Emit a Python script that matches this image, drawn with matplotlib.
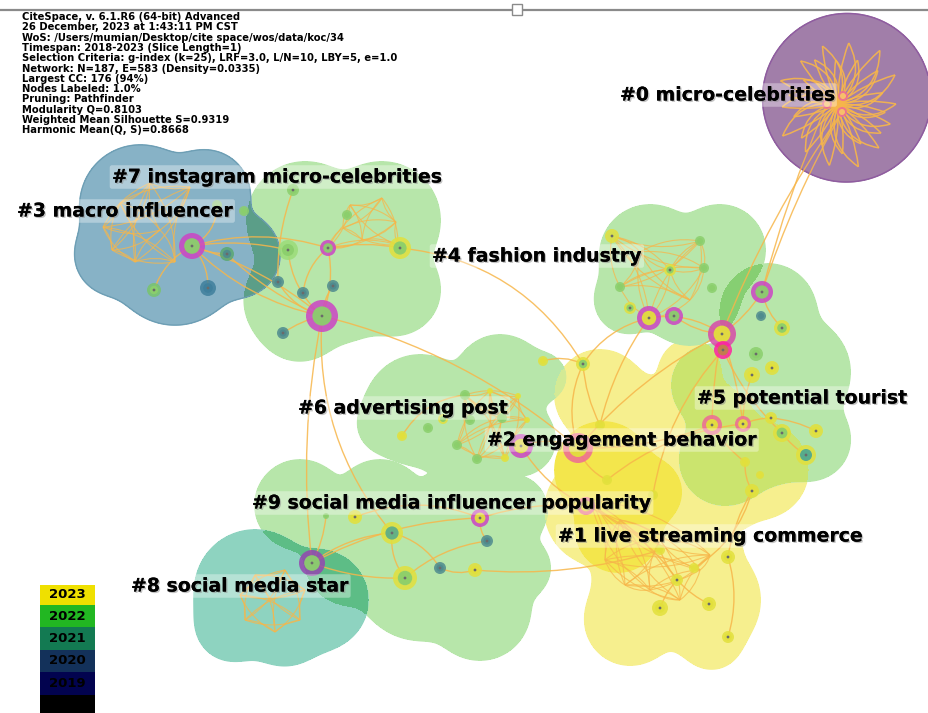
import matplotlib.pyplot as plt
import numpy as np
from matplotlib.patches import Circle, Rectangle, PathPatch
from matplotlib.path import Path
import matplotlib.patheffects as pe

W, H = 929, 713

# header text (CiteSpace run info)
header = [
    "CiteSpace, v. 6.1.R6 (64-bit) Advanced",
    "26 December, 2023 at 1:43:11 PM CST",
    "WoS: /Users/mumian/Desktop/cite space/wos/data/koc/34",
    "Timespan: 2018-2023 (Slice Length=1)",
    "Selection Criteria: g-index (k=25), LRF=3.0, L/N=10, LBY=5, e=1.0",
    "Network: N=187, E=583 (Density=0.0335)",
    "Largest CC: 176 (94%)",
    "Nodes Labeled: 1.0%",
    "Pruning: Pathfinder",
    "Modularity Q=0.8103",
    "Weighted Mean Silhouette S=0.9319",
    "Harmonic Mean(Q, S)=0.8668",
]

# year legend
years = ["2023", "2022", "2021", "2020", "2019", ""]
year_colors = ["#efe000", "#22b722", "#137a52", "#13315a", "#02034f", "#000000"]

# cluster labels: text, left x, centre y (pixels)
labels = ["#0 micro-celebrities", "#7 instagram micro-celebrities", "#3 macro influencer",
          "#4 fashion industry", "#6 advertising post", "#5 potential tourist",
          "#2 engagement behavior", "#9 social media influencer popularity",
          "#1 live streaming commerce", "#8 social media star"]
label_x = [620, 112, 17, 432, 298, 697, 487, 252, 558, 131]
label_y = [95, 177, 211, 256, 408, 398, 440, 503, 536, 586]

# cluster areas as unions of circles (cx, cy, r)
blob_2 = [(600, 395, 45), (640, 440, 60), (700, 440, 60), (760, 470, 48), (600, 500, 50), (720, 495, 40), (690, 370, 30)]
blob_1 = [(600, 510, 55), (655, 575, 60), (705, 600, 55), (630, 620, 45), (690, 545, 50), (712, 640, 28)]
blob_2c = [(603, 470, 48), (618, 530, 42), (648, 492, 33)]
blob_6 = [(420, 410, 55), (500, 380, 45), (470, 440, 50), (385, 425, 25), (543, 377, 22), (520, 440, 35)]
blob_9 = [(300, 505, 45), (380, 505, 45), (460, 500, 40), (512, 510, 35), (420, 575, 65), (480, 610, 50), (350, 560, 45), (520, 568, 30)]
blob_8 = [(255, 590, 60), (318, 600, 50), (285, 625, 40), (232, 625, 35)]
blob_4 = [(650, 255, 50), (720, 250, 45), (690, 295, 50), (628, 300, 33)]
blob_5 = [(768, 312, 48), (795, 372, 55), (760, 420, 65), (810, 440, 40), (725, 460, 45), (712, 385, 40)]
blob_7 = [(305, 220, 58), (382, 220, 58), (335, 270, 72), (300, 320, 40), (395, 290, 45), (290, 300, 45)]
blob_3 = [(140, 205, 60), (205, 195, 45), (175, 260, 65), (238, 255, 42), (115, 255, 40)]
blob_0 = [(848, 96, 80), (845, 100, 78)]

blobs = [blob_2, blob_1, blob_2c, blob_6, blob_9, blob_8, blob_4, blob_5, blob_7, blob_3, blob_0]
blob_colors = ["#f6ef8e", "#f6ef8e", "#f3e64c", "#b7e6aa", "#b7e6aa", "#8ed3c0", "#b7e6aa",
               "#b7e6aa", "#b7e6aa", "#87b2c6", "#a17ea9"]
# overlapping areas drawn darker: (index a, index b, colour)
overlaps = [(9, 8, "#5b9e88"), (5, 4, "#5dbd86"), (6, 7, "#86cf72"), (7, 0, "#cbe46e"),
            (7, 2, "#c7e040"), (3, 0, "#d3ea95"), (4, 1, "#d9ed92")]

# nodes: name, x, y, radius, ring colour, core colour
M, P, V = "#cc44c4", "#ee6a96", "#9446b0"
Y, G, T, B = "#e2e03c", "#8bcf6c", "#4f8b8e", "#3f7f9c"
nodes_0 = [("a0", 843, 96, 5, P, "#f7c46a"), ("b0", 827, 104, 5, P, "#f7c46a"), ("c0", 842, 112, 5, P, "#f7c46a")]
nodes_3 = [("h3", 192, 246, 13, M, G), ("t3", 227, 254, 7, "#5aa872", T), ("g3", 154, 290, 7, "#78c46c", G),
           ("b3", 208, 288, 8, B, B), ("s3", 217, 205, 5, "#9ccf80", "#9ccf80"), ("u3", 244, 211, 5, G, G)]
nodes_7 = [("g7", 288, 250, 10, "#9bdc78", G), ("m7", 328, 248, 8, M, G), ("y7", 400, 248, 11, Y, G),
           ("h7", 322, 316, 16, M, G), ("t7a", 278, 282, 6, T, T), ("t7b", 303, 293, 6, T, T),
           ("t7c", 333, 286, 6, T, T), ("t7d", 283, 333, 6, T, T), ("g7b", 293, 190, 6, G, G), ("g7c", 347, 215, 5, G, G)]
nodes_4 = [("y4a", 612, 236, 7, Y, "#d6e050"), ("g4a", 700, 241, 5, G, G), ("y4b", 670, 270, 6, Y, G),
           ("g4b", 704, 268, 5, G, G), ("g4c", 712, 288, 5, G, G), ("g4d", 620, 287, 5, G, G),
           ("y4c", 630, 308, 6, Y, G), ("m4a", 649, 318, 12, M, Y), ("m4b", 674, 316, 9, M, G),
           ("m4c", 722, 334, 14, "#d84aa8", Y), ("m4d", 723, 350, 9, "#ff20a0", "#c0804a"),
           ("m4e", 762, 292, 11, M, G), ("t4", 761, 316, 5, T, T), ("y4d", 782, 328, 8, Y, G),
           ("g4e", 756, 354, 7, G, G), ("y4e", 752, 375, 8, Y, Y), ("y4f", 772, 368, 7, Y, Y)]
nodes_5 = [("p5a", 712, 425, 10, P, Y), ("p5b", 743, 424, 8, P, Y), ("y5a", 782, 433, 9, Y, G),
           ("y5b", 806, 455, 10, Y, "#50a890"), ("y5c", 816, 431, 7, Y, Y), ("y5d", 771, 418, 6, Y, Y),
           ("y5e", 745, 462, 5, Y, Y), ("y5f", 752, 491, 7, Y, Y), ("y5g", 760, 475, 4, Y, Y)]
nodes_6 = [("g6a", 465, 395, 5, G, G), ("y6a", 490, 391, 3, Y, Y), ("y6b", 518, 396, 3, Y, Y),
           ("g6b", 443, 419, 5, Y, G), ("g6c", 470, 420, 5, G, G), ("g6d", 502, 418, 5, G, G),
           ("y6c", 527, 420, 3, Y, Y), ("g6e", 428, 428, 5, G, G), ("y6d", 402, 436, 5, Y, Y),
           ("g6f", 457, 445, 5, G, G), ("g6g", 477, 459, 5, G, G), ("y6e", 505, 458, 4, Y, Y),
           ("y6f", 543, 361, 5, Y, Y), ("g6h", 583, 364, 7, Y, G), ("m6", 521, 446, 12, M, Y)]
nodes_2 = [("p2", 578, 448, 15, P, Y), ("p2b", 586, 506, 9, P, Y), ("y2a", 600, 425, 5, Y, Y),
           ("y2b", 607, 480, 5, Y, Y), ("y2c", 653, 495, 5, Y, Y)]
nodes_1 = [("y1a", 660, 550, 5, Y, Y), ("y1b", 694, 568, 5, Y, Y), ("y1c", 677, 580, 6, Y, Y),
           ("y1d", 660, 608, 8, Y, Y), ("y1e", 709, 604, 7, Y, Y), ("y1f", 728, 637, 6, Y, Y),
           ("y1g", 728, 557, 7, Y, Y)]
nodes_9 = [("m9", 480, 518, 9, M, Y), ("y9a", 392, 533, 11, Y, "#5fae88"), ("y9b", 405, 578, 12, Y, G),
           ("t9a", 487, 541, 6, T, T), ("t9b", 440, 568, 6, T, T), ("y9c", 475, 570, 7, Y, Y),
           ("y9d", 355, 517, 7, Y, Y), ("g9", 326, 516, 3, G, G)]
nodes_8 = [("h8", 312, 563, 13, V, G)]
node_groups = [nodes_0, nodes_3, nodes_7, nodes_4, nodes_5, nodes_6, nodes_2, nodes_1, nodes_9, nodes_8]

# links between named nodes: (from, to, bend)
edges = [
    ("c0", "m4e", 0.05), ("c0", "m4c", 0.06), ("b0", "m4e", 0.04),
    ("h3", "g7", -0.1), ("h3", "h7", 0.15), ("h3", "h7", -0.1), ("h3", "m7", -0.15),
    ("h3", "t3", 0.1), ("h3", "g3", 0.2), ("h3", "b3", -0.2), ("h3", "s3", 0.3), ("t3", "h7", 0.1),
    ("g7", "h7", 0.2), ("m7", "h7", -0.15), ("m7", "y7", -0.1), ("t7a", "h7", 0.2),
    ("t7c", "h7", 0.15), ("t7d", "h7", -0.1), ("g7b", "t7a", 0.1), ("m7", "t7b", 0.2),
    ("h7", "p2", -0.12), ("y7", "g6h", -0.25), ("h7", "h8", 0.08), ("h7", "y9a", 0.2),
    ("h8", "y9a", -0.15), ("h8", "y9b", 0.1), ("h8", "m9", -0.12), ("h8", "g9", 0.1),
    ("y9a", "t9b", -0.2), ("y9a", "y9b", 0.2), ("t9b", "y9c", 0.2), ("m9", "t9a", 0.2),
    ("m9", "p2b", -0.1), ("y9b", "t9a", -0.15), ("y9d", "m9", -0.2), ("y9c", "y1a", 0.1),
    ("m6", "p2", -0.2), ("g6h", "p2", 0.2), ("y6f", "g6h", -0.2), ("g6h", "m4a", -0.2),
    ("y6d", "g6a", -0.25), ("p2", "m4c", -0.1), ("p2", "p5a", 0.1), ("p2b", "y1c", -0.15),
    ("y2a", "m4a", -0.1), ("y2b", "p5b", -0.15), ("m4c", "p5a", 0.05), ("m4c", "p5b", -0.05),
    ("m4d", "y5a", 0.1), ("m4c", "m4e", 0.1), ("m4e", "y4d", 0.15), ("p5a", "y5e", 0.1),
    ("p5b", "y5d", -0.1), ("y5a", "y5b", 0.1), ("y5d", "y5c", -0.1), ("y5e", "y5f", 0.15),
    ("m4a", "m4c", -0.2), ("m4b", "m4c", 0.15), ("y5f", "y1g", 0.1), ("y1g", "y1f", -0.15),
    ("y1a", "y1e", 0.2), ("y1c", "y1d", 0.1), ("m4d", "y2c", 0.15), ("y4e", "p5b", 0.1),
    ("p2", "y2b", 0.2), ("m6", "p2b", 0.15), ("g6h", "y2a", 0.1), ("y1b", "y5f", 0.2),
]

# dense local meshes (every pair linked)
mesh_3 = [(103, 227), (120, 203), (150, 183), (190, 187), (175, 262), (135, 262), (112, 250), (160, 230)]
mesh_7 = [(350, 205), (382, 198), (396, 222), (398, 245), (362, 240), (343, 228), (328, 248)]
mesh_4 = [(612, 236), (700, 241), (670, 270), (620, 287), (649, 318), (704, 268), (640, 252), (690, 300)]
mesh_6 = [(490, 391), (518, 396), (527, 420), (505, 458), (477, 459), (457, 445), (465, 395), (502, 418)]
mesh_1 = [(590, 500), (620, 520), (625, 585), (650, 590), (680, 600), (700, 570), (710, 555), (660, 540), (605, 560)]
mesh_8 = [(240, 595), (255, 575), (285, 570), (305, 590), (300, 620), (275, 632), (245, 620)]
meshes = [mesh_3, mesh_7, mesh_4, mesh_6, mesh_1, mesh_8]

# swirl of links in cluster #0: angle (deg), length (px)
star_angle = [0, 14, 27, 40, 52, 66, 80, 93, 105, 118, 131, 145, 158, 170,
              183, 196, 210, 223, 236, 249, 262, 275, 288, 300, 313, 326, 339, 350]
star_len = [58, 46, 64, 52, 68, 48, 62, 44, 60, 50, 57, 42, 62, 50,
            56, 46, 64, 50, 58, 44, 62, 50, 66, 46, 60, 52, 56, 48]
star_centre = (838, 104)

EDGE = "#f7b64a"


def field(circles, X, Y):
    d = np.stack([np.hypot(X - cx, Y - cy) - r for cx, cy, r in circles])
    m = d.min(axis=0)
    k = 7.0
    return m - k * np.log(np.exp(-(d - m) / k).sum(axis=0))


def arc(ax, p, q, bend, lw=1.0, alpha=0.85):
    (x0, y0), (x1, y1) = p, q
    cx = (x0 + x1) / 2 - (y1 - y0) * bend
    cy = (y0 + y1) / 2 + (x1 - x0) * bend
    path = Path([(x0, y0), (cx, cy), (x1, y1)], [Path.MOVETO, Path.CURVE3, Path.CURVE3])
    ax.add_patch(PathPatch(path, fill=False, ec=EDGE, lw=lw, alpha=alpha, zorder=3))


fig = plt.figure(figsize=(W / 100, H / 100), dpi=100)
ax = fig.add_axes([0, 0, 1, 1])
ax.set_xlim(0, W)
ax.set_ylim(H, 0)
ax.axis("off")

gx, gy = np.meshgrid(np.arange(0, W, 2.0), np.arange(0, H, 2.0))
fields = [field(b, gx, gy) for b in blobs]
for f, c in zip(fields, blob_colors):
    ax.contourf(gx, gy, f, levels=[-1e9, 0], colors=[c], zorder=1)
    ax.contour(gx, gy, f, levels=[0], colors=[c], linewidths=1.2, zorder=1)
for a, b, c in overlaps:
    ax.contourf(gx, gy, np.maximum(fields[a], fields[b]), levels=[-1e9, 0], colors=[c], zorder=1.5)
# thin darker rims
ax.contour(gx, gy, fields[10], levels=[0], colors=["#8f5ca0"], linewidths=1, zorder=1.6)
ax.contour(gx, gy, fields[9], levels=[0], colors=["#6c9db3"], linewidths=0.8, zorder=1.6)

pos = {}
for grp in node_groups:
    for name, x, y, r, ring, core in grp:
        pos[name] = (x, y)

for mesh in meshes:
    for i in range(len(mesh)):
        for j in range(i + 1, len(mesh)):
            arc(ax, mesh[i], mesh[j], 0.18 if (i + j) % 2 else -0.18, lw=0.8, alpha=0.75)

for a, b, bend in edges:
    arc(ax, pos[a], pos[b], bend)

cx0, cy0 = star_centre
for ang, ln in zip(star_angle, star_len):
    t = np.deg2rad(ang)
    tip = (cx0 + ln * np.cos(t), cy0 - ln * np.sin(t))
    arc(ax, (cx0, cy0), tip, 0.38, lw=1.1, alpha=0.9)
    arc(ax, tip, (cx0, cy0), 0.1, lw=1.1, alpha=0.9)

for grp in node_groups:
    for name, x, y, r, ring, core in grp:
        ax.add_patch(Circle((x, y), r, fc=ring, ec="none", alpha=0.85, zorder=4))
        ax.add_patch(Circle((x, y), r * 0.6, fc=core, ec="none", alpha=0.95, zorder=4))
        if r >= 6:
            ax.add_patch(Circle((x, y), 1.4, fc="#6a6a6a", ec="none", zorder=4))

shadow = [pe.withSimplePatchShadow(offset=(1, -1), shadow_rgbFace="#888888", alpha=0.5), pe.Normal()]
for txt, x, y in zip(labels, label_x, label_y):
    ax.text(x, y, txt, fontsize=13.6, fontweight="bold", color="black", ha="left", va="center",
            zorder=6, path_effects=shadow,
            bbox=dict(boxstyle="round,pad=0.12", fc="white", ec="none", alpha=0.35))

for i, line in enumerate(header):
    ax.text(22, 17 + i * 10.3, line, fontsize=7.2, fontweight="bold", color="black",
            ha="left", va="center", zorder=7)

# top frame line with small handle
ax.plot([0, W], [10, 10], color="#8a8a8a", lw=1.6, zorder=7)
ax.add_patch(Rectangle((512, 4), 10, 11, fc="white", ec="#8a8a8a", lw=1, zorder=8))

y0 = 585
heights = [20, 22, 23, 22, 23, 18]
for yr, c, h in zip(years, year_colors, heights):
    ax.add_patch(Rectangle((40, y0), 55, h, fc=c, ec="none", zorder=7))
    if yr:
        ax.text(67.5, y0 + h / 2, yr, fontsize=9.5, fontweight="bold", color="black",
                ha="center", va="center", zorder=8)
    y0 += h

fig.savefig("out.png", dpi=100)
